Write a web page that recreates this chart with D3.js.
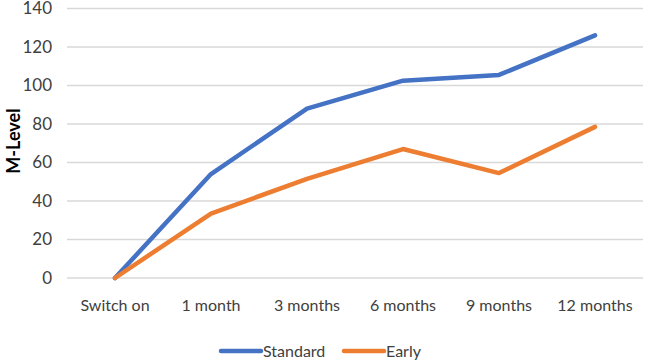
<!DOCTYPE html>
<html>
<head>
<meta charset="utf-8">
<script src="https://cdn.jsdelivr.net/npm/d3@7"></script>
<style>
  body { margin: 0; background: #fff; }
  text { font-family: Lato, "Open Sans", sans-serif; fill: #404040; }
  .grid-line { stroke: #d9d9d9; stroke-width: 1.3; }
  .line { fill: none; stroke-width: 4.5; stroke-linejoin: round; stroke-linecap: round; }
</style>
</head>
<body>
<svg id="plotarea"></svg>
<script>
const categories = ['Switch on', '1 month', '3 months', '6 months', '9 months', '12 months'];
const standard = [0, 54, 88, 102.5, 105.5, 126];
const early = [0, 33.5, 51.5, 67, 54.5, 78.5];
const yTicks = [0, 20, 40, 60, 80, 100, 120, 140];

const series = [
    { name: 'Standard', values: standard, color: '#4472C4' },
    { name: 'Early', values: early, color: '#ED7D31' },
];

const width = 645, height = 362;

var svg = d3.select('#plotarea')
            .attr('width', width)
            .attr('height', height);

var x = d3.scaleBand().domain(categories).range([67, 643]);
var y = d3.scaleLinear().domain([0, 140]).range([278, 8.5]);

// grid lines
svg.selectAll('.grid-line')
   .data(yTicks)
   .enter().append('line')
   .attr('class', 'grid-line')
   .attr('x1', 67)
   .attr('x2', 643)
   .attr('y1', d => y(d))
   .attr('y2', d => y(d));

// y tick labels
svg.selectAll('.y-label')
   .data(yTicks)
   .enter().append('text')
   .attr('class', 'y-label')
   .attr('x', 52)
   .attr('y', d => y(d))
   .attr('dy', '0.35em')
   .style('text-anchor', 'end')
   .style('font-size', '17px')
   .text(d => d);

// x labels
svg.selectAll('.x-label')
   .data(categories)
   .enter().append('text')
   .attr('class', 'x-label')
   .attr('x', d => x(d) + x.bandwidth() / 2)
   .attr('y', 311)
   .style('text-anchor', 'middle')
   .style('font-size', '16px')
   .text(d => d);

// y axis title
svg.append('text')
   .attr('transform', 'translate(20, 141) rotate(-90)')
   .style('text-anchor', 'middle')
   .style('font-size', '18px')
   .style('font-weight', 'bold')
   .style('fill', '#000')
   .text('M-Level');

var line = d3.line()
             .x((d, i) => x(categories[i]) + x.bandwidth() / 2)
             .y(d => y(d));

svg.selectAll('.line')
   .data(series)
   .enter().append('path')
   .attr('class', 'line')
   .attr('stroke', d => d.color)
   .attr('d', d => line(d.values));

// legend
var legend = svg.selectAll('.legend')
                .data(series)
                .enter().append('g')
                .attr('transform', (d, i) => `translate(${221 + i * 123}, 351)`);

legend.append('line')
      .attr('x1', 0).attr('x2', 40)
      .attr('stroke', d => d.color)
      .attr('stroke-width', 4.5)
      .attr('stroke-linecap', 'round');

legend.append('text')
      .attr('x', 42)
      .attr('dy', '0.35em')
      .style('font-size', '16px')
      .text(d => d.name);
</script>
</body>
</html>
